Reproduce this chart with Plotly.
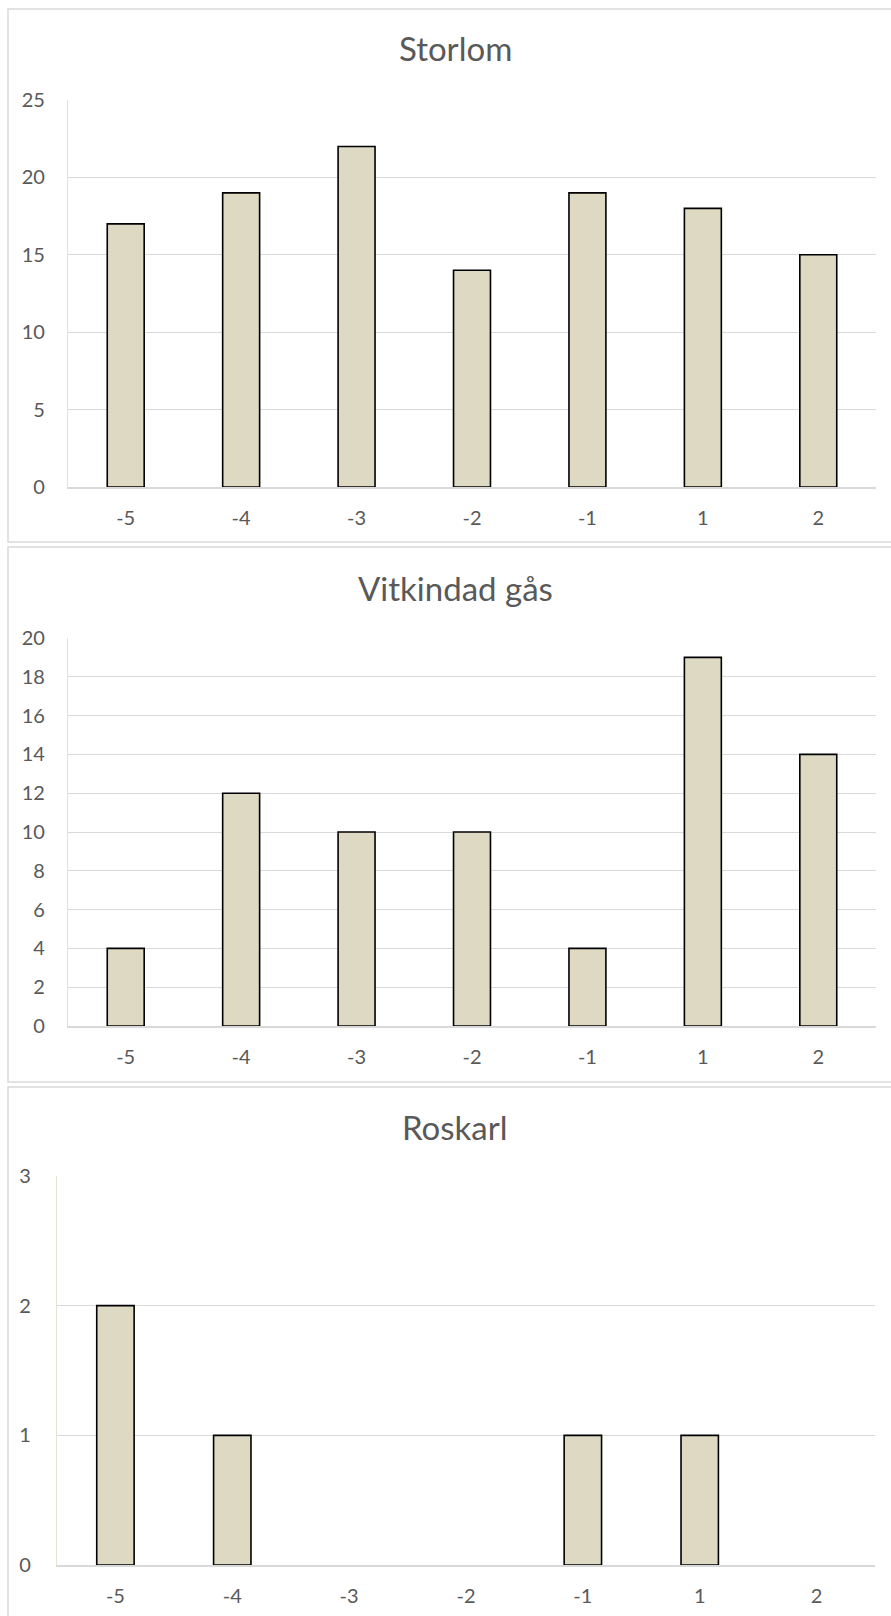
import plotly.graph_objects as go

categories = ["-5", "-4", "-3", "-2", "-1", "1", "2"]
storlom = [17, 19, 22, 14, 19, 18, 15]
vitkindad_gas = [4, 12, 10, 10, 4, 19, 14]
roskarl = [2, 1, 0, 0, 1, 1, 0]
titles = ["Storlom", "Vitkindad gås", "Roskarl"]
series = [storlom, vitkindad_gas, roskarl]
y_ranges = [(0, 25), (0, 20), (0, 3)]
y_dtick = [5, 2, 1]

W, H = 891, 1616
FONT = "Lato"
TXT = "#595959"
GRID = "#d9d9d9"
BAR_FILL = "#ddd9c3"

# pixel layout of each panel: (plot left, plot right, plot top, plot bottom, title y, border top, border bottom)
panels = [
    (68, 876, 100, 487, 48, 9, 542),
    (68, 876, 638, 1026, 588, 547, 1082),
    (57, 875, 1176, 1565, 1127, 1087, 1640),
]

fig = go.Figure()
shapes = []
annotations = []

for i, (vals, title, yr, dt, p) in enumerate(zip(series, titles, y_ranges, y_dtick, panels)):
    xl, xr, yt, yb, ty, bt, bb = p
    sfx = "" if i == 0 else str(i + 1)
    fig.add_trace(go.Bar(
        x=categories, y=[v if v else None for v in vals],
        marker=dict(color=BAR_FILL, line=dict(color="#000000", width=1.6)),
        xaxis="x" + sfx, yaxis="y" + sfx,
        showlegend=False, hoverinfo="x+y",
    ))
    fig.layout["xaxis" + sfx] = dict(
        domain=[xl / W, xr / W], anchor="y" + sfx, automargin=False,
        type="category", categoryorder="array", categoryarray=categories,
        showgrid=False, showline=True, linecolor=GRID, linewidth=1.5,
        layer="above traces",
        ticks="outside", ticklen=12, tickcolor="rgba(0,0,0,0)",
        tickfont=dict(family=FONT, size=20, color=TXT),
        fixedrange=True,
    )
    fig.layout["yaxis" + sfx] = dict(
        domain=[1 - yb / H, 1 - yt / H], anchor="x" + sfx, automargin=False,
        range=list(yr), dtick=dt, tick0=0,
        showgrid=True, gridcolor=GRID, gridwidth=1.3,
        zeroline=False,
        showline=True, linecolor="#e6e3d4", linewidth=1.3,
        ticks="outside", ticklen=18 if i < 2 else 21, tickcolor="rgba(0,0,0,0)",
        tickfont=dict(family=FONT, size=20, color=TXT),
        fixedrange=True,
    )
    annotations.append(dict(
        text=title, x=455 / W, y=1 - ty / H, xref="paper", yref="paper",
        xanchor="center", yanchor="middle", showarrow=False,
        font=dict(family=FONT, size=33, color=TXT),
    ))
    shapes.append(dict(
        type="rect", xref="paper", yref="paper",
        x0=8 / W, x1=895 / W, y0=1 - bb / H, y1=1 - bt / H,
        line=dict(color=GRID, width=1.5), fillcolor="rgba(0,0,0,0)", layer="below",
    ))

fig.update_layout(
    width=W, height=H,
    margin=dict(l=0, r=0, t=0, b=0, autoexpand=False),
    paper_bgcolor="white", plot_bgcolor="white",
    bargap=0.68,
    shapes=shapes, annotations=annotations,
)

fig.write_html("out.html", config={"displayModeBar": False})
